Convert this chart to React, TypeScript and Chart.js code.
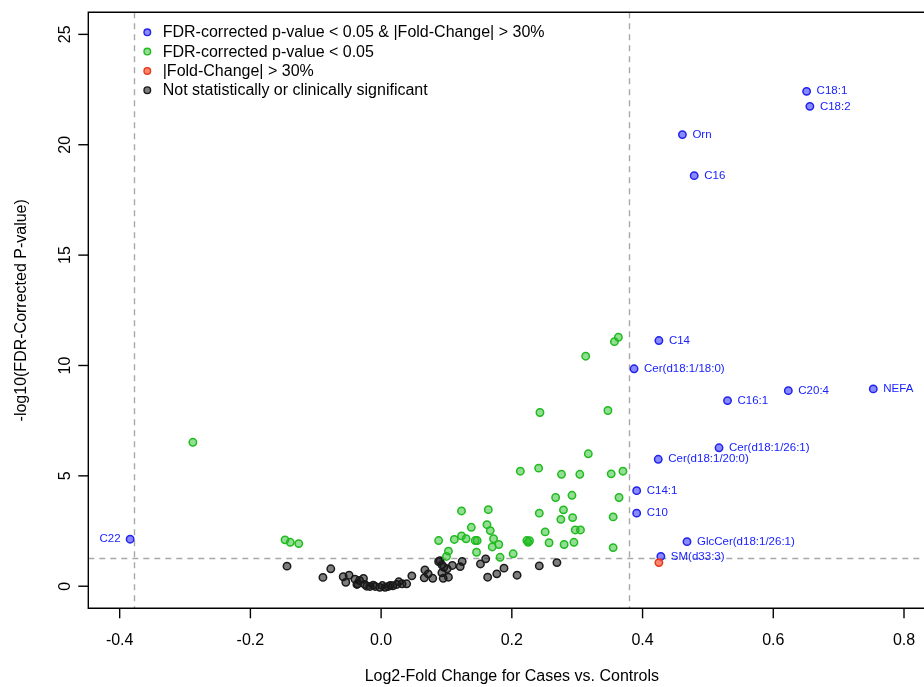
import React, { useEffect, useRef } from "react";
import { Chart, registerables } from "chart.js";

Chart.register(...registerables);

// ---- axis settings ----
const xTicks = [-0.4, -0.2, 0.0, 0.2, 0.4, 0.6, 0.8];
const yTicks = [0, 5, 10, 15, 20, 25];
const xMin = -0.448;
const xMax = 0.8306; // visible window (plot continues past right edge)
const yMin = -1;
const yMax = 26;
const fcCut = 0.3785; // log2(1.3)
const pCut = 1.301; // -log10(0.05)

const xTitle = "Log2-Fold Change for Cases vs. Controls";
const yTitle = "-log10(FDR-Corrected P-value)";

const legendLabels = [
  "FDR-corrected p-value < 0.05 & |Fold-Change| > 30%",
  "FDR-corrected p-value < 0.05",
  "|Fold-Change| > 30%",
  "Not statistically or clinically significant",
];

// ---- data ----
const blueNames = [
  "C18:1", "C18:2", "Orn", "C16", "C14", "Cer(d18:1/18:0)", "C20:4", "NEFA",
  "C16:1", "Cer(d18:1/26:1)", "Cer(d18:1/20:0)", "C14:1", "C10",
  "GlcCer(d18:1/26:1)", "SM(d33:3)", "C22",
];
const blueX = [0.651, 0.656, 0.461, 0.479, 0.425, 0.387, 0.623, 0.753, 0.530, 0.517, 0.424, 0.391, 0.391, 0.468, 0.428, -0.384];
const blueY = [22.42, 21.74, 20.46, 18.6, 11.13, 9.85, 8.86, 8.94, 8.41, 6.27, 5.75, 4.33, 3.31, 2.02, 1.35, 2.13];

const redX = [0.425];
const redY = [1.07];

const greenX = [
  -0.288, -0.147, -0.139, -0.126,
  0.363, 0.357, 0.313, 0.243, 0.347,
  0.317, 0.213, 0.241, 0.276, 0.304, 0.352, 0.370,
  0.267, 0.292, 0.364,
  0.242, 0.279, 0.275, 0.293, 0.355,
  0.123, 0.164, 0.138, 0.162, 0.167, 0.251, 0.297, 0.305,
  0.223, 0.225, 0.227, 0.257, 0.280, 0.295, 0.355,
  0.172, 0.180, 0.170, 0.146, 0.182, 0.202,
  0.112, 0.123, 0.130, 0.144, 0.147, 0.103, 0.100, 0.088,
];
const greenY = [
  6.52, 2.10, 1.99, 1.93,
  11.28, 11.08, 10.42, 7.87, 7.96,
  6.0, 5.21, 5.35, 5.07, 5.07, 5.09, 5.21,
  4.02, 4.12, 4.02,
  3.31, 3.46, 3.03, 3.11, 3.14,
  3.41, 3.47, 2.67, 2.79, 2.52, 2.46, 2.55, 2.55,
  2.07, 1.99, 2.06, 1.97, 1.89, 1.99, 1.75,
  2.15, 1.89, 1.78, 1.54, 1.31, 1.47,
  2.12, 2.28, 2.15, 2.07, 2.07, 1.59, 1.35, 2.07,
];

const blackX = [
  -0.144, -0.089, -0.077, -0.058, -0.049, -0.054, -0.040, -0.036, -0.033, -0.027,
  -0.025, -0.017, -0.009, -0.002, 0.006, 0.011, 0.018, 0.024, 0.027, 0.032,
  0.039, 0.047, 0.066, 0.067, 0.072, 0.079, 0.088, 0.090, 0.093, 0.096,
  0.093, 0.095, 0.103, 0.101, 0.109, 0.121, 0.124, 0.152, 0.160, 0.163,
  0.177, 0.188, 0.208, 0.242, 0.269, -0.037, -0.022, -0.012, 0.002, 0.014,
];
const blackY = [
  0.91, 0.40, 0.79, 0.43, 0.50, 0.18, 0.32, 0.11, 0.26, 0.35,
  0.08, -0.01, -0.01, -0.05, -0.05, -0.01, 0.02, 0.08, 0.20, 0.11,
  0.11, 0.47, 0.38, 0.74, 0.56, 0.36, 1.12, 1.16, 0.97, 0.86,
  0.61, 0.36, 0.41, 0.79, 0.94, 0.89, 1.12, 1.01, 1.24, 0.41,
  0.56, 0.82, 0.50, 0.92, 1.07, 0.08, 0.0, 0.05, 0.03, 0.04,
];

// ---- styles ----
const FONT = "'Liberation Sans', Arial, Helvetica, sans-serif";
const styles = [
  { fill: "rgba(60,60,255,0.6)", stroke: "#2222ee" }, // blue
  { fill: "rgba(40,190,40,0.5)", stroke: "#1fbb1f" }, // green
  { fill: "rgba(255,90,60,0.75)", stroke: "#e8381a" }, // red
  { fill: "rgba(20,20,20,0.55)", stroke: "#1a1a1a" }, // black
];

const toPts = (xs: number[], ys: number[]) => xs.map((x, i) => ({ x, y: ys[i] }));

const overlay = {
  id: "overlay",
  beforeDatasetsDraw(chart: any) {
    const { ctx, chartArea: a, scales } = chart;
    const x = scales.x;
    const y = scales.y;
    ctx.save();
    ctx.strokeStyle = "#a8a8a8";
    ctx.lineWidth = 1.4;
    ctx.setLineDash([6, 5]);
    for (const v of [-fcCut, fcCut]) {
      const px = Math.round(x.getPixelForValue(v)) + 0.5;
      ctx.beginPath();
      ctx.moveTo(px, a.top);
      ctx.lineTo(px, a.bottom);
      ctx.stroke();
    }
    const py = Math.round(y.getPixelForValue(pCut)) + 0.5;
    ctx.beginPath();
    ctx.moveTo(a.left, py);
    ctx.lineTo(a.right, py);
    ctx.stroke();
    ctx.restore();
  },
  afterDraw(chart: any) {
    const { ctx, chartArea: a, scales } = chart;
    const x = scales.x;
    const y = scales.y;
    ctx.save();
    // box (left, top, bottom; right side beyond the visible window)
    ctx.strokeStyle = "#000";
    ctx.lineWidth = 1.4;
    ctx.beginPath();
    ctx.moveTo(a.right + 5, a.top);
    ctx.lineTo(a.left, a.top);
    ctx.lineTo(a.left, a.bottom);
    ctx.lineTo(a.right + 5, a.bottom);
    ctx.stroke();

    // x ticks
    ctx.fillStyle = "#000";
    ctx.font = `16px ${FONT}`;
    ctx.textAlign = "center";
    ctx.textBaseline = "middle";
    for (const v of xTicks) {
      const px = x.getPixelForValue(v);
      ctx.beginPath();
      ctx.moveTo(px, a.bottom);
      ctx.lineTo(px, a.bottom + 10);
      ctx.stroke();
      ctx.fillText(v.toFixed(1), px, a.bottom + 32);
    }
    // y ticks
    for (const v of yTicks) {
      const py = y.getPixelForValue(v);
      ctx.beginPath();
      ctx.moveTo(a.left - 10, py);
      ctx.lineTo(a.left, py);
      ctx.stroke();
      ctx.save();
      ctx.translate(a.left - 23, py);
      ctx.rotate(-Math.PI / 2);
      ctx.textAlign = "center";
      ctx.textBaseline = "middle";
      ctx.fillText(String(v), 0, 0);
      ctx.restore();
    }
    // axis titles
    ctx.font = `16px ${FONT}`;
    ctx.textAlign = "center";
    ctx.textBaseline = "middle";
    ctx.fillText(xTitle, x.getPixelForValue(0.2), 677);
    ctx.save();
    ctx.translate(22, (a.top + a.bottom) / 2);
    ctx.rotate(-Math.PI / 2);
    ctx.fillText(yTitle, 0, 0);
    ctx.restore();

    // legend
    const legendOrder = [0, 1, 2, 3];
    ctx.font = `16px ${FONT}`;
    ctx.textAlign = "left";
    ctx.textBaseline = "middle";
    legendOrder.forEach((k, i) => {
      const ly = 32.3 + i * 19.3;
      ctx.beginPath();
      ctx.arc(147.3, ly, 3.3, 0, Math.PI * 2);
      ctx.fillStyle = "#fff";
      ctx.fill();
      ctx.fillStyle = styles[k].fill;
      ctx.fill();
      ctx.lineWidth = 1.4;
      ctx.strokeStyle = styles[k].stroke;
      ctx.stroke();
      ctx.fillStyle = "#000";
      ctx.fillText(legendLabels[k], 162.7, ly + 0.5);
    });

    // point labels for blue points
    const meta = chart.getDatasetMeta(1);
    ctx.font = `11.5px ${FONT}`;
    ctx.fillStyle = "#1a22ff";
    ctx.textBaseline = "middle";
    meta.data.forEach((el: any, i: number) => {
      const name = blueNames[i];
      if (blueX[i] < 0) {
        ctx.textAlign = "right";
        ctx.fillText(name, el.x - 9.5, el.y);
      } else {
        ctx.textAlign = "left";
        ctx.fillText(name, el.x + 10, el.y);
      }
    });
    ctx.restore();
  },
};

export default function App() {
  const ref = useRef<HTMLCanvasElement | null>(null);
  useEffect(() => {
    if (!ref.current) return;
    const mk = (label: string, data: any[], k: number) => ({
      label,
      data,
      backgroundColor: styles[k].fill,
      borderColor: styles[k].stroke,
      borderWidth: 1.5,
      pointRadius: 3.7,
      pointHoverRadius: 3.7,
    });
    const chart = new Chart(ref.current, {
      type: "scatter",
      data: {
        datasets: [
          mk(legendLabels[2], toPts(redX, redY), 2),
          mk(legendLabels[0], toPts(blueX, blueY), 0),
          mk(legendLabels[1], toPts(greenX, greenY), 1),
          mk(legendLabels[3], toPts(blackX, blackY), 3),
        ],
      },
      options: {
        responsive: false,
        animation: false,
        events: [],
        layout: { autoPadding: false, padding: { left: 88.3, top: 12.3, right: 0, bottom: 78.7 } },
        plugins: { legend: { display: false }, tooltip: { enabled: false } },
        scales: {
          x: { type: "linear", min: xMin, max: xMax, display: false },
          y: { type: "linear", min: yMin, max: yMax, display: false },
        },
      },
      plugins: [overlay],
    });
    return () => chart.destroy();
  }, []);
  return (
    <div
      style={{
        position: "fixed",
        left: 0,
        top: 0,
        width: 924,
        height: 687,
        background: "#fff",
        overflow: "hidden",
      }}
    >
      <canvas ref={ref} width={924} height={687} style={{ width: 924, height: 687, display: "block" }} />
    </div>
  );
}
